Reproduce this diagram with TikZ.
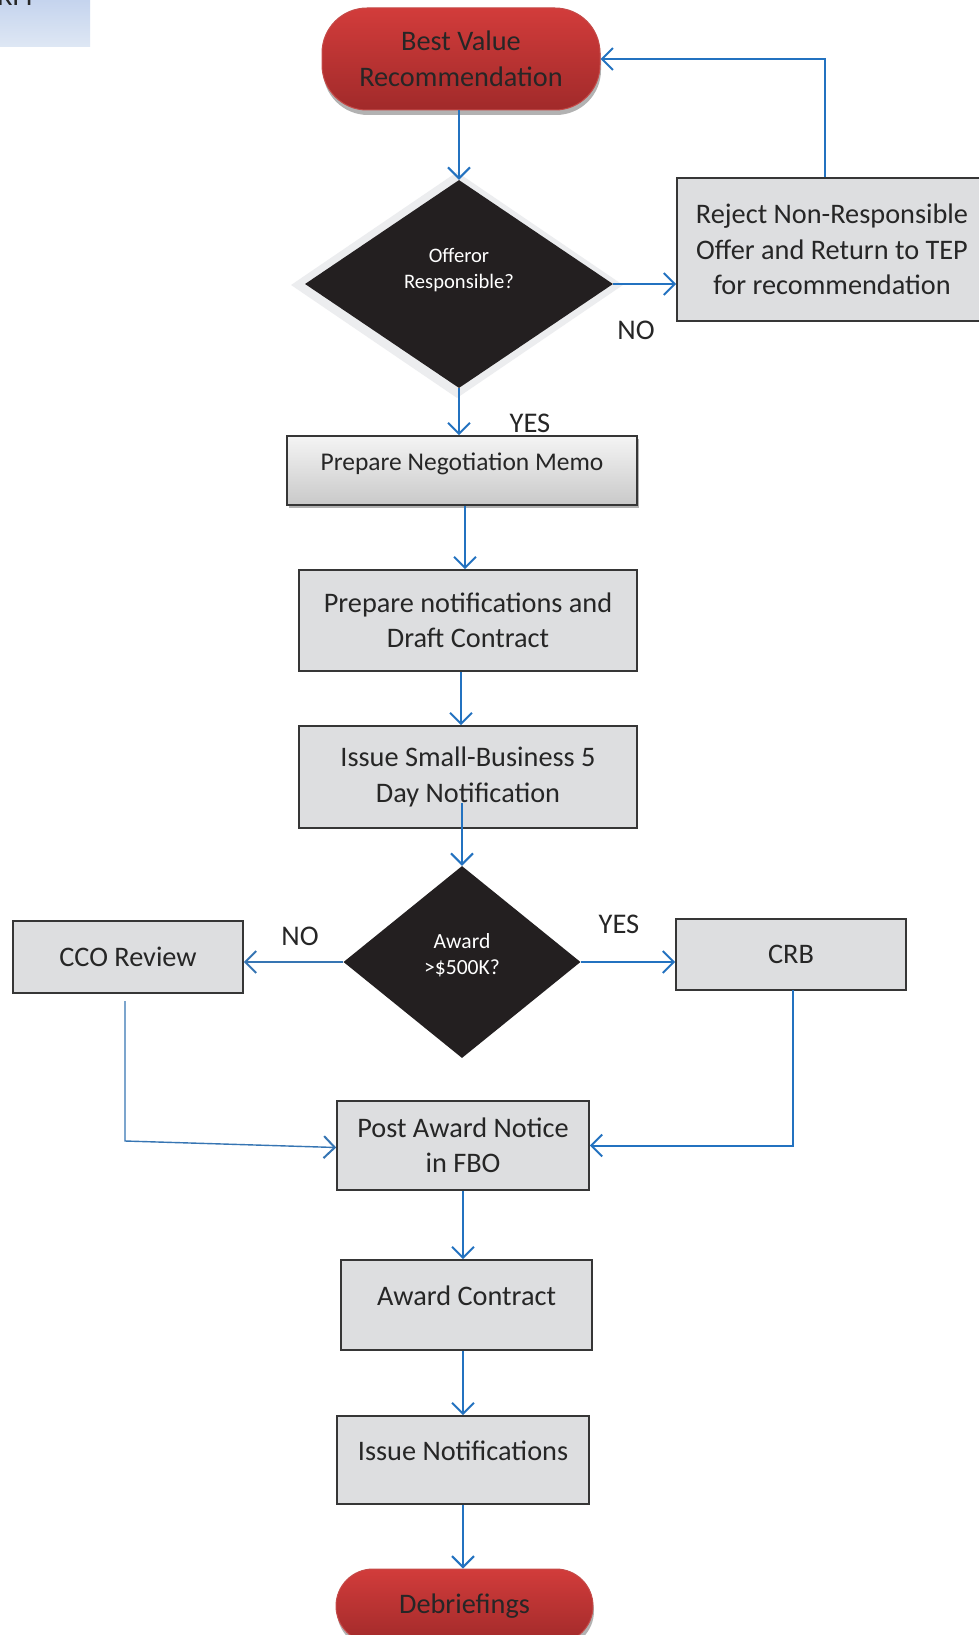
\documentclass[tikz,border=0pt]{standalone}
\usepackage{fontspec}
\setmainfont{Carlito}
\usetikzlibrary{shapes.geometric,arrows.meta,shadows}
\definecolor{arrowblue}{HTML}{2372C0}
\definecolor{boxfill}{HTML}{DDDEE0}
\definecolor{boxline}{HTML}{363636}
\definecolor{diafill}{HTML}{231F20}
\definecolor{redtop}{HTML}{D23C3B}
\definecolor{redbot}{HTML}{A12A2A}
\definecolor{redline}{HTML}{C44A48}
\definecolor{txtdark}{HTML}{262626}
\definecolor{halo}{HTML}{ECEDEF}
\definecolor{rfptop}{HTML}{C5D4EE}
\definecolor{rfpbot}{HTML}{DEE7F4}
\definecolor{memotop}{HTML}{F4F4F4}
\definecolor{memobot}{HTML}{C9C9C9}
\begin{document}
\begin{tikzpicture}[x=1pt,y=-1pt,
  mainfont/.style={font=\fontsize{28.3}{35.5}\selectfont},
  procbox/.style={draw=boxline, line width=1.6pt, fill=boxfill, mainfont, text=txtdark, align=center, inner sep=0pt},
  terminal/.style={draw=redline, line width=1pt, top color=redtop, bottom color=redbot, mainfont, text=txtdark, align=center, inner sep=0pt,
     drop shadow={shadow xshift=1pt, shadow yshift=-5pt, opacity=0.3, fill=black}},
  decision/.style={diamond, fill=diafill, inner sep=0pt},
  dtext/.style={text=white, align=center, inner sep=0pt},
  arr/.style={draw=arrowblue, line width=2pt, -{Straight Barb[length=11pt,width=22pt,line width=2pt]}},
  arrthin/.style={draw=arrowblue!80!gray, line width=1.4pt, -{Straight Barb[length=11pt,width=22pt,line width=2pt]}},
  lbl/.style={font=\fontsize{28.5}{32}\selectfont, text=txtdark, inner sep=0pt},
]
\useasboundingbox (0,0) rectangle (979,1635);
\clip (0,0) rectangle (979,1635);
\fill[white] (0,0) rectangle (979,1635);

% RFP fragment
\node[top color=rfptop, bottom color=rfpbot, minimum width=90pt, minimum height=46pt, inner sep=0pt, anchor=north west] (rfpbox) at (0,0) {};
\node[lbl, anchor=base west] (rfptxt) at (-3,6) {RFP};

% nodes
\node[terminal, rounded corners=45pt, minimum width=278pt, minimum height=102pt] (bv) at (461,59) {Best Value\\Recommendation};
\node[diamond, fill=halo, minimum width=332pt, minimum height=226pt, inner sep=0pt] (d1halo) at (457,285) {};
\node[decision, minimum width=308pt, minimum height=208pt] (d1) at (459,284) {};
\node[dtext, font=\fontsize{20.6}{26.5}\selectfont] (d1txt) at ([yshift=14pt]d1.center) {Offeror\\Responsible?};
\node[procbox, minimum width=310pt, minimum height=143pt] (rej) at (832,249.5) {Reject Non-Responsible\\Offer and Return to TEP\\for recommendation};
\node[procbox, font=\fontsize{25.5}{35}\selectfont, top color=memotop, bottom color=memobot, minimum width=350pt, minimum height=69pt, text height=12pt, text depth=12pt,
      drop shadow={shadow xshift=2pt, shadow yshift=-3pt, opacity=0.3, fill=black}] (memo) at (462,470.5) {Prepare Negotiation Memo};
\node[procbox, minimum width=338pt, minimum height=101pt] (notif) at (468,620.5) {Prepare notifications and\\Draft Contract};
\node[procbox, minimum width=338pt, minimum height=102pt] (sb) at (468,777) {Issue Small-Business 5\\Day Notification};
\node[decision, minimum width=237pt, minimum height=192pt] (d2) at (462,962) {};
\node[dtext, font=\fontsize{21.6}{26.5}\selectfont] (d2txt) at ([yshift=7pt]d2.center) {Award\\>\$500K?};
\node[procbox, minimum width=230pt, minimum height=72pt] (cco) at (128,957) {CCO Review};
\node[procbox, minimum width=230pt, minimum height=71pt] (crb) at (791,954.5) {CRB};
\node[procbox, minimum width=252pt, minimum height=89pt] (post) at (463,1145.5) {Post Award Notice\\in FBO};
\node[procbox, minimum width=251pt, minimum height=90pt, text height=12pt, text depth=12pt] (award) at (466.5,1305) {Award Contract};
\node[procbox, minimum width=252pt, minimum height=88pt, text height=13pt, text depth=13pt] (issn) at (463,1460) {Issue Notifications};
\node[terminal, rounded corners=37pt, minimum width=257pt, minimum height=74pt] (debr) at (464.5,1606) {Debriefings};

% labels
\node[lbl] (no1) at (636,330) {NO};
\node[lbl] (yes1) at (530,423) {YES};
\node[lbl] (no2) at (300,936) {NO};
\node[lbl] (yes2) at (619,924) {YES};

% helper coordinates
\coordinate (sbstart) at (463,803);
\coordinate (ccostart) at (125,1001);
\coordinate (ccoturn) at (125,1141);
\coordinate (crbstart) at (793,990);

% connectors
\draw[arr] (bv.south -| d1.north) -- (d1.north);
\draw[arr] (d1.east) -- (d1.east -| rej.west);
\draw[arr] ([xshift=-7pt]rej.north) |- (bv.east);
\draw[arr] (d1.south) -- (d1.south |- memo.north);
\draw[arr] ([xshift=3pt]memo.south) -- ([xshift=3pt]memo.south |- notif.north);
\draw[arr] ([xshift=-7pt]notif.south) -- ([xshift=-7pt]notif.south |- sb.north);
\draw[arr] (sbstart -| d2.north) -- (d2.north);
\draw[arrthin] (d2.west) -- (d2.west -| cco.east);
\draw[arr] (d2.east) -- (d2.east -| crb.west);
\draw[arrthin] (ccostart) -- (ccoturn) -- ([yshift=-2pt]post.west);
\draw[arr] (crbstart) |- (post.east);
\draw[arr] (post.south) -- (post.south |- award.north);
\draw[arr] (award.south -| issn.north) -- (issn.north);
\draw[arr] (issn.south) -- (issn.south |- debr.north);
\end{tikzpicture}
\end{document}
